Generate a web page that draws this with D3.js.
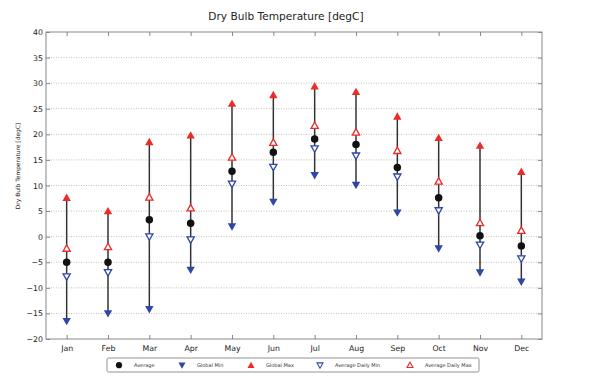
<!DOCTYPE html>
<html>
<head>
<meta charset="utf-8">
<script src="https://cdn.jsdelivr.net/npm/d3@7"></script>
<style>
  body { margin: 0; background: #fff; }
  svg { font-family: "DejaVu Sans", sans-serif; }
</style>
</head>
<body>
<svg id="chart" width="605" height="379"></svg>
<script>
const months = ["Jan", "Feb", "Mar", "Apr", "May", "Jun", "Jul", "Aug", "Sep", "Oct", "Nov", "Dec"];
const globalMax = [7.6, 5.0, 18.5, 19.8, 26.0, 27.7, 29.4, 28.3, 23.5, 19.3, 17.8, 12.7];
const avgDailyMax = [-2.3, -2.0, 7.7, 5.6, 15.5, 18.4, 21.7, 20.4, 16.8, 10.8, 2.7, 1.2];
const average = [-5.0, -5.0, 3.3, 2.6, 12.8, 16.5, 19.1, 18.0, 13.5, 7.6, 0.2, -1.8];
const avgDailyMin = [-7.8, -7.0, 0.0, -0.6, 10.3, 13.6, 17.2, 15.8, 11.7, 5.1, -1.6, -4.3];
const globalMin = [-16.5, -15.0, -14.2, -6.5, 2.0, 6.8, 12.0, 10.1, 4.7, -2.3, -7.0, -8.8];
const yTicks = [-20, -15, -10, -5, 0, 5, 10, 15, 20, 25, 30, 35, 40];

const blue = "#2f45a8";
const red = "#ee2a26";

const svg = d3.select("#chart");
const plotLeft = 46, plotRight = 542, plotTop = 32, plotBottom = 339;

const x = d3.scalePoint().domain(months).range([plotLeft, plotRight]).padding(0.5);
const y = d3.scaleLinear().domain([-20, 40]).range([plotBottom, plotTop]);

// grid
svg.append("g")
  .selectAll("line")
  .data(yTicks.slice(1, -1))
  .enter()
  .append("line")
  .attr("x1", plotLeft)
  .attr("x2", plotRight)
  .attr("y1", (d) => y(d))
  .attr("y2", (d) => y(d))
  .attr("stroke", "#b0b0b0")
  .attr("stroke-width", 0.8)
  .attr("stroke-dasharray", "1,1.5");

// axes
svg.append("g")
  .attr("transform", `translate(${plotLeft},0)`)
  .call(d3.axisLeft(y).tickValues(yTicks).tickSize(-4).tickPadding(3))
  .call((g) => g.select(".domain").remove());

svg.append("g")
  .attr("transform", `translate(${plotRight},0)`)
  .call(d3.axisRight(y).tickValues(yTicks).tickSize(-4).tickFormat(""))
  .call((g) => g.select(".domain").remove());

svg.append("g")
  .attr("transform", `translate(0,${plotBottom})`)
  .call(d3.axisBottom(x).tickSize(-4).tickPadding(6))
  .call((g) => g.select(".domain").remove());

svg.append("g")
  .attr("transform", `translate(0,${plotTop})`)
  .call(d3.axisTop(x).tickSize(-4).tickFormat(""))
  .call((g) => g.select(".domain").remove());

svg.selectAll(".tick line").attr("stroke", "#888");
svg.selectAll(".tick text").attr("font-size", 7.8).attr("fill", "#222")
  .attr("font-family", "DejaVu Sans");

svg.append("rect")
  .attr("x", plotLeft)
  .attr("y", plotTop)
  .attr("width", plotRight - plotLeft)
  .attr("height", plotBottom - plotTop)
  .attr("fill", "none")
  .attr("stroke", "#888")
  .attr("stroke-width", 1);

// range lines
svg.append("g")
  .selectAll("line")
  .data(months)
  .enter()
  .append("line")
  .attr("x1", (d) => x(d))
  .attr("x2", (d) => x(d))
  .attr("y1", (d, i) => y(globalMin[i]))
  .attr("y2", (d, i) => y(globalMax[i]))
  .attr("stroke", "#333")
  .attr("stroke-width", 1.5);

function markers(data, kind) {
  const g = svg.append("g");
  const sel = g.selectAll("path")
    .data(data)
    .enter()
    .append("path")
    .attr("transform", (d, i) => `translate(${x(months[i])},${y(d)})`);
  if (kind == "avg") {
    sel.attr("d", d3.symbol().type(d3.symbolCircle).size(44)).attr("fill", "#111");
  } else if (kind == "gmin") {
    sel.attr("d", "M0,4.2L-4.2,-3.2L4.2,-3.2Z").attr("fill", blue);
  } else if (kind == "gmax") {
    sel.attr("d", "M0,-4.2L4.2,3.2L-4.2,3.2Z").attr("fill", red);
  } else if (kind == "dmin") {
    sel.attr("d", "M0,3.6L-3.6,-2.8L3.6,-2.8Z").attr("fill", "#fff")
      .attr("stroke", blue).attr("stroke-width", 1.3);
  } else if (kind == "dmax") {
    sel.attr("d", "M0,-3.6L3.6,2.8L-3.6,2.8Z").attr("fill", "#fff")
      .attr("stroke", red).attr("stroke-width", 1.3);
  }
}

markers(globalMin, "gmin");
markers(globalMax, "gmax");
markers(avgDailyMin, "dmin");
markers(avgDailyMax, "dmax");
markers(average, "avg");

// title + y label
svg.append("text")
  .attr("x", 286)
  .attr("y", 20)
  .attr("text-anchor", "middle")
  .attr("font-size", 10.6)
  .attr("fill", "#222")
  .text("Dry Bulb Temperature [degC]");

svg.append("text")
  .attr("transform", `translate(20,166) rotate(-90)`)
  .attr("text-anchor", "middle")
  .attr("font-size", 5.9)
  .attr("fill", "#222")
  .text("Dry Bulb Temperature [degC]");

// legend
const legend = svg.append("g");
legend.append("rect")
  .attr("x", 107)
  .attr("y", 358)
  .attr("width", 372)
  .attr("height", 14)
  .attr("rx", 1.5)
  .attr("fill", "#fff")
  .attr("stroke", "#777")
  .attr("stroke-width", 0.8);

const legendItems = [
  { label: "Average", mx: 119, kind: "avg" },
  { label: "Global Min", mx: 182, kind: "gmin" },
  { label: "Global Max", mx: 251, kind: "gmax" },
  { label: "Average Daily Min", mx: 320, kind: "dmin" },
  { label: "Average Daily Max", mx: 410, kind: "dmax" },
];

legendItems.forEach((it) => {
  const m = legend.append("path").attr("transform", `translate(${it.mx},365.2)`);
  if (it.kind == "avg") m.attr("d", d3.symbol().type(d3.symbolCircle).size(30)).attr("fill", "#111");
  if (it.kind == "gmin") m.attr("d", "M0,3.5L-3.5,-2.7L3.5,-2.7Z").attr("fill", blue);
  if (it.kind == "gmax") m.attr("d", "M0,-3.5L3.5,2.7L-3.5,2.7Z").attr("fill", red);
  if (it.kind == "dmin") m.attr("d", "M0,3L-3,-2.3L3,-2.3Z").attr("fill", "#fff").attr("stroke", blue).attr("stroke-width", 1.1);
  if (it.kind == "dmax") m.attr("d", "M0,-3L3,2.3L-3,2.3Z").attr("fill", "#fff").attr("stroke", red).attr("stroke-width", 1.1);
  legend.append("text")
    .attr("x", it.mx + 15)
    .attr("y", 367)
    .attr("font-size", 5)
    .attr("fill", "#333")
    .text(it.label);
});
</script>
</body>
</html>
